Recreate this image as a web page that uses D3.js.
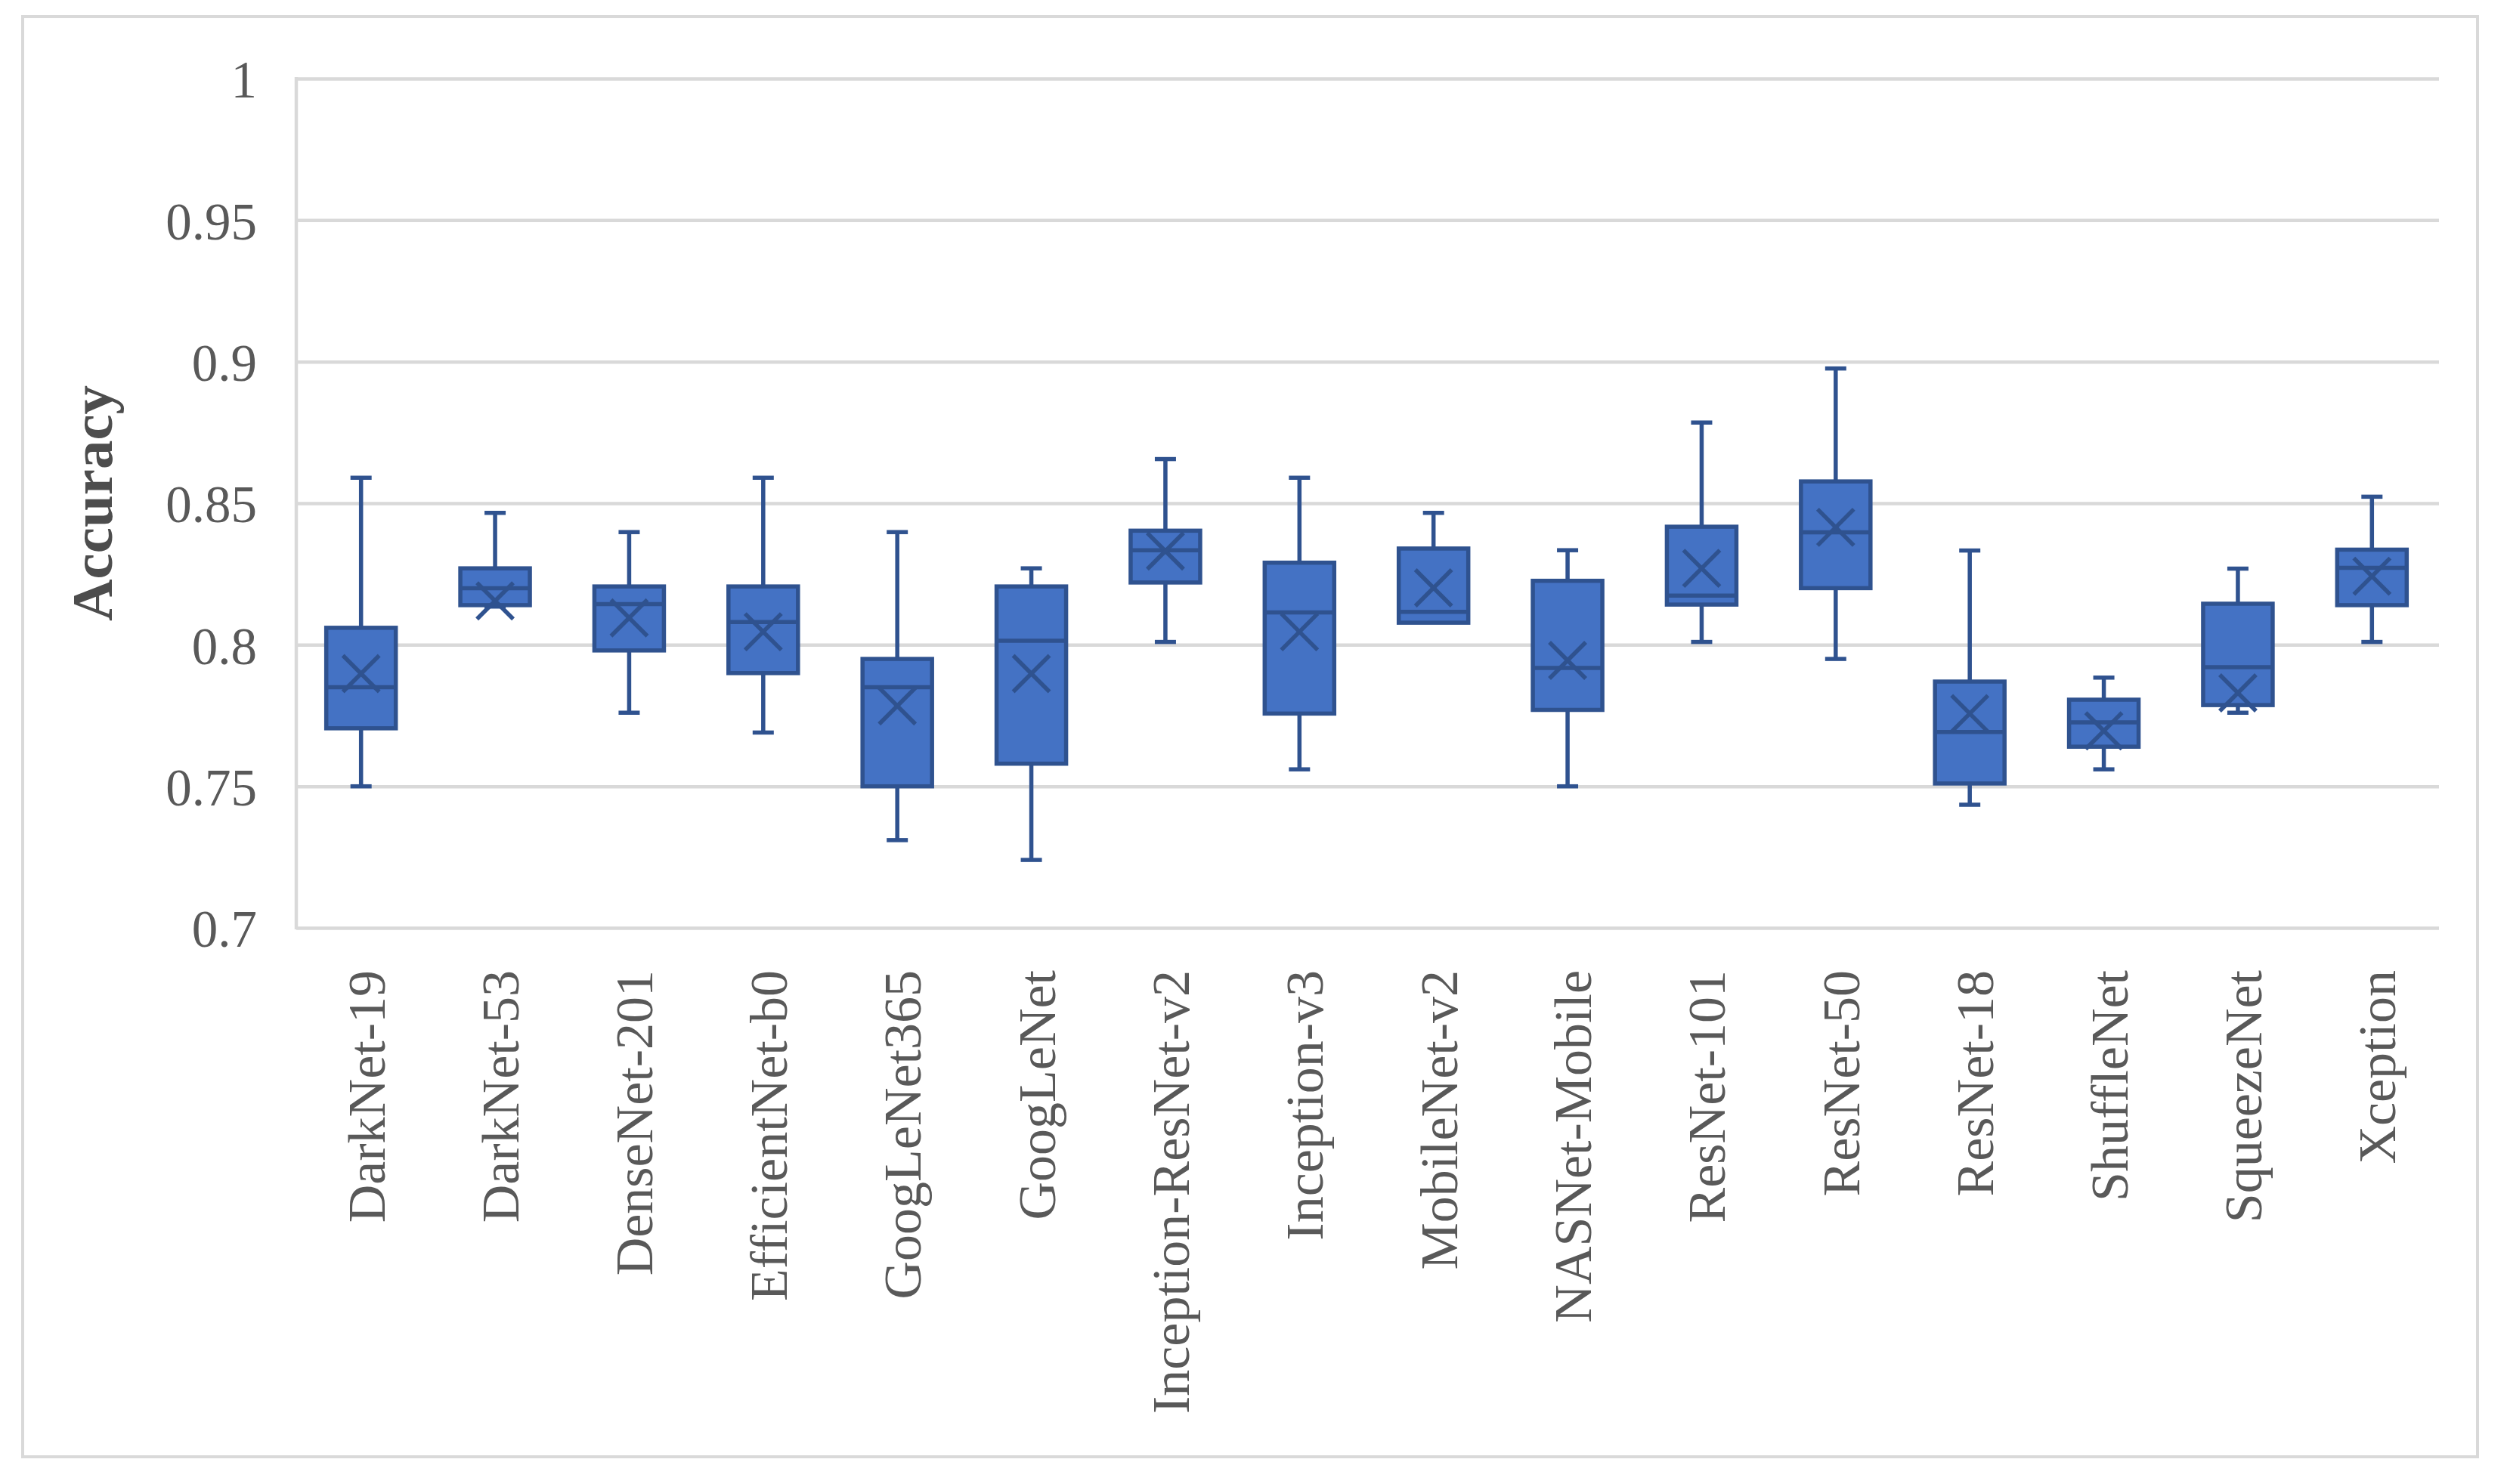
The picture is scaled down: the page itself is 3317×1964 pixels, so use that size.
<!DOCTYPE html>
<html>
<head>
<meta charset="utf-8">
<script src="https://cdn.jsdelivr.net/npm/d3@7"></script>
<style>
  html, body { margin: 0; padding: 0; background: #ffffff; }
  svg { display: block; }
</style>
</head>
<body>
<svg id="chart" width="3317" height="1964"></svg>
<script>
const categories = ["DarkNet-19","DarkNet-53","DenseNet-201","EfficientNet-b0","GoogLeNet365","GoogLeNet","Inception-ResNet-v2","Inception-v3","MobileNet-v2","NASNet-Mobile","ResNet-101","ResNet-50","ResNet-18","ShuffleNet","SqueezeNet","Xception"];
const minVals    = [0.750, 0.8135, 0.776, 0.769, 0.731, 0.724, 0.801, 0.756, 0.8078, 0.750, 0.801, 0.795, 0.7435, 0.756, 0.776, 0.801];
const q1Vals     = [0.7705, 0.814, 0.798, 0.790, 0.750, 0.758, 0.822, 0.7757, 0.8078, 0.777, 0.8142, 0.820, 0.751, 0.764, 0.7787, 0.814];
const medianVals = [0.785, 0.820, 0.8144, 0.808, 0.785, 0.8014, 0.8334, 0.8114, 0.8116, 0.7918, 0.8174, 0.8397, 0.7692, 0.7726, 0.7921, 0.8272];
const q3Vals     = [0.806, 0.827, 0.8206, 0.8206, 0.795, 0.8206, 0.8403, 0.829, 0.834, 0.8226, 0.8417, 0.8577, 0.787, 0.7806, 0.8145, 0.8336];
const maxVals    = [0.859, 0.8466, 0.8398, 0.859, 0.8398, 0.827, 0.8656, 0.859, 0.8466, 0.8334, 0.8785, 0.8976, 0.8333, 0.7884, 0.8269, 0.8523];
const meanVals   = [0.7898, 0.8155, 0.8095, 0.8046, 0.7784, 0.7898, 0.8331, 0.8046, 0.8201, 0.7945, 0.827, 0.8415, 0.7757, 0.7696, 0.783, 0.8242];
const yTickValues = [0.7, 0.75, 0.8, 0.85, 0.9, 0.95, 1];
const yTickLabels = ["0.7", "0.75", "0.8", "0.85", "0.9", "0.95", "1"];
const yTitle = "Accuracy";

const svg = d3.select("#chart");
const plot = { left: 392, right: 3227, top: 104, bottom: 1228 };

const fill = "#4472C4", dark = "#2F528F", grid = "#D9D9D9", textCol = "#595959";
const serif = "'Liberation Serif', 'Times New Roman', serif";

// outer border
svg.append("rect")
  .attr("x", 30).attr("y", 22).attr("width", 3248).attr("height", 1906)
  .attr("fill", "#fff").attr("stroke", grid).attr("stroke-width", 4);

const x = d3.scaleBand().domain(categories).range([plot.left - 3, plot.right]).paddingInner(0).paddingOuter(0);
const y = d3.scaleLinear().domain([0.7, 1]).range([plot.bottom, plot.top]);

// y axis with gridlines
const yAxis = d3.axisLeft(y)
  .tickValues(yTickValues)
  .tickFormat((d, i) => yTickLabels[i])
  .tickSize(-(plot.right - plot.left))
  .tickPadding(52);
const gy = svg.append("g").attr("transform", `translate(${plot.left},0)`).call(yAxis);
gy.select(".domain").remove();
gy.selectAll(".tick line").attr("stroke", grid).attr("stroke-width", 4.5);
gy.selectAll(".tick text")
  .attr("fill", textCol).attr("font-family", serif).attr("font-size", 69)
  .attr("dy", "0.36em");

// left axis line
svg.append("line")
  .attr("x1", plot.left).attr("x2", plot.left)
  .attr("y1", plot.top - 2).attr("y2", plot.bottom + 2)
  .attr("stroke", grid).attr("stroke-width", 4.5);

// x axis labels
const xAxis = d3.axisBottom(x).tickSize(0).tickPadding(0);
const gx = svg.append("g").attr("transform", `translate(0,${plot.bottom})`).call(xAxis);
gx.select(".domain").remove();
gx.selectAll(".tick text")
  .attr("fill", textCol).attr("font-family", serif).attr("font-size", 70)
  .attr("text-anchor", "end")
  .attr("dy", null).attr("y", null)
  .attr("transform", "translate(31,56) rotate(-90)");

// y title
svg.append("text")
  .attr("transform", `translate(148,${(plot.top + plot.bottom) / 2}) rotate(-90)`)
  .attr("text-anchor", "middle")
  .attr("font-family", serif).attr("font-weight", "bold").attr("font-size", 77)
  .attr("fill", "#4d4d4d").text(yTitle);

const data = categories.map((c, i) => ({
  c, min: minVals[i], q1: q1Vals[i], med: medianVals[i], q3: q3Vals[i], max: maxVals[i], mean: meanVals[i]
}));

const boxW = 92, capW = 28, xs = 24, sw = 5.5;
const g = svg.append("g");
const cx = d => x(d.c) + x.bandwidth() / 2;

// whiskers
g.selectAll(".wh").data(data).enter().append("line")
  .attr("x1", cx).attr("x2", cx)
  .attr("y1", d => y(d.max)).attr("y2", d => y(d.min))
  .attr("stroke", dark).attr("stroke-width", sw);
g.selectAll(".capT").data(data.filter(d => d.max > d.q3)).enter().append("line")
  .attr("x1", d => cx(d) - capW / 2).attr("x2", d => cx(d) + capW / 2)
  .attr("y1", d => y(d.max)).attr("y2", d => y(d.max))
  .attr("stroke", dark).attr("stroke-width", sw);
g.selectAll(".capB").data(data.filter(d => d.min < d.q1)).enter().append("line")
  .attr("x1", d => cx(d) - capW / 2).attr("x2", d => cx(d) + capW / 2)
  .attr("y1", d => y(d.min)).attr("y2", d => y(d.min))
  .attr("stroke", dark).attr("stroke-width", sw);

// boxes
g.selectAll(".box").data(data).enter().append("rect")
  .attr("x", d => cx(d) - boxW / 2).attr("width", boxW)
  .attr("y", d => y(d.q3)).attr("height", d => y(d.q1) - y(d.q3))
  .attr("fill", fill).attr("stroke", dark).attr("stroke-width", sw);

// median
g.selectAll(".med").data(data).enter().append("line")
  .attr("x1", d => cx(d) - boxW / 2).attr("x2", d => cx(d) + boxW / 2)
  .attr("y1", d => y(d.med)).attr("y2", d => y(d.med))
  .attr("stroke", dark).attr("stroke-width", sw);

// mean markers (X)
const mk = g.selectAll(".mean").data(data).enter().append("g")
  .attr("transform", d => `translate(${cx(d)},${y(d.mean)})`);
mk.append("line").attr("x1", -xs).attr("y1", -xs).attr("x2", xs).attr("y2", xs)
  .attr("stroke", dark).attr("stroke-width", sw);
mk.append("line").attr("x1", -xs).attr("y1", xs).attr("x2", xs).attr("y2", -xs)
  .attr("stroke", dark).attr("stroke-width", sw);
</script>
</body>
</html>
